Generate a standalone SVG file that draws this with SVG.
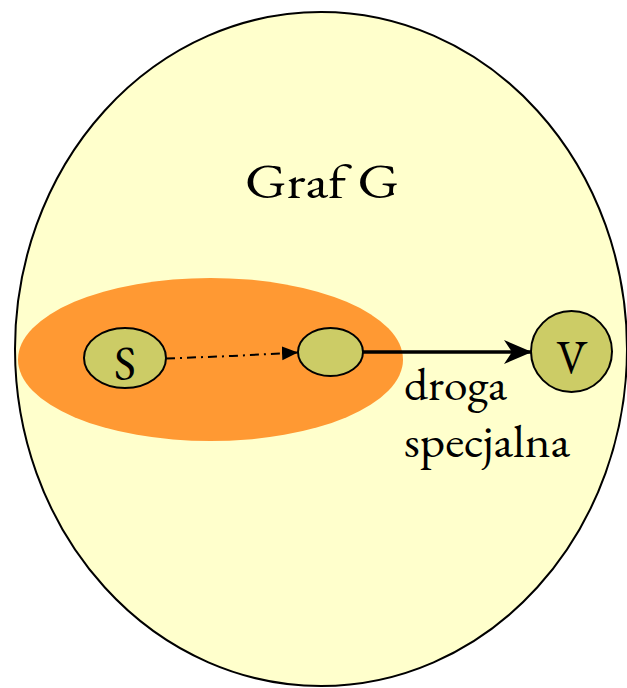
<svg xmlns="http://www.w3.org/2000/svg" width="627" height="688" viewBox="0 0 627 688">
  <style>
    .lbl { font-family: "EB Garamond", "Liberation Serif", "DejaVu Serif", serif; fill: #000; }
    .node { fill: #CCCC66; stroke: #000; stroke-width: 2; }
  </style>
  <defs>
    <marker id="tri" markerUnits="userSpaceOnUse" markerWidth="16" markerHeight="16" viewBox="0 0 16 16" refX="16" refY="8" orient="auto">
      <path d="M0,1 L16,8 L0,15 Z" fill="#000"/>
    </marker>
    <marker id="stealth" markerUnits="userSpaceOnUse" markerWidth="28" markerHeight="26" viewBox="0 0 28 26" refX="27" refY="13" orient="auto">
      <path d="M0,1 L28,13 L0,25 L8,13 Z" fill="#000"/>
    </marker>
  </defs>
  <rect width="627" height="688" fill="#FFFFFF"/>
  <g id="graf">
    <ellipse cx="321" cy="349" rx="306" ry="337" fill="#FFFFCC" stroke="#000" stroke-width="2"/>
    <text class="lbl" x="322" y="198" font-size="47" text-anchor="middle" textLength="154" lengthAdjust="spacingAndGlyphs">Graf G</text>
  </g>
  <g id="region">
    <ellipse cx="210.5" cy="359.5" rx="192.5" ry="81.5" fill="#FF9933"/>
  </g>
  <g id="connectors">
    <path d="M166,358.5 L232,356 L298,352.5" fill="none" stroke="#000" stroke-width="2" stroke-dasharray="9,5,2,5" marker-end="url(#tri)"/>
    <line x1="363" y1="352" x2="531" y2="352" stroke="#000" stroke-width="3.5" marker-end="url(#stealth)"/>
    <text class="lbl" x="404" y="400" font-size="46" textLength="103" lengthAdjust="spacingAndGlyphs">droga</text>
    <text class="lbl" x="404" y="457" font-size="46" textLength="166" lengthAdjust="spacingAndGlyphs">specjalna</text>
  </g>
  <g id="node-s">
    <ellipse class="node" cx="125" cy="358" rx="41" ry="30"/>
    <text class="lbl" x="125" y="380" font-size="47" text-anchor="middle">S</text>
  </g>
  <g id="node-mid">
    <ellipse class="node" cx="330.5" cy="352" rx="32.5" ry="24"/>
  </g>
  <g id="node-v">
    <circle class="node" cx="571.5" cy="351.5" r="40.5"/>
    <text class="lbl" x="572" y="374" font-size="48" text-anchor="middle" textLength="31" lengthAdjust="spacingAndGlyphs">V</text>
  </g>
</svg>
